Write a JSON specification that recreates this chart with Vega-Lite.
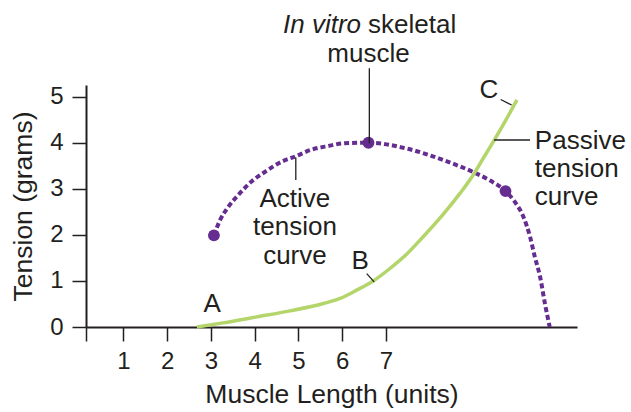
{
  "$schema": "https://vega.github.io/schema/vega-lite/v6.json",
  "width": 491,
  "height": 242,
  "autosize": {"type": "none"},
  "padding": {"left": 86, "top": 85, "right": 54, "bottom": 85},
  "background": "white",
  "config": {
    "view": {"stroke": null},
    "font": "Liberation Sans",
    "axis": {
      "domainColor": "#231f20",
      "domainWidth": 2,
      "tickColor": "#231f20",
      "tickWidth": 1.5,
      "tickSize": 14,
      "grid": false,
      "labelFont": "Liberation Sans",
      "labelFontSize": 24,
      "labelColor": "#231f20",
      "titleFont": "Liberation Sans",
      "titleFontSize": 26.5,
      "titleFontWeight": "normal",
      "titleColor": "#231f20"
    }
  },
  "datasets": {
    "active": [
      {"x": 3.07, "y": 1.99}, {"x": 3.21, "y": 2.32}, {"x": 3.4, "y": 2.61},
      {"x": 3.63, "y": 2.87}, {"x": 3.93, "y": 3.16}, {"x": 4.24, "y": 3.37},
      {"x": 4.62, "y": 3.59}, {"x": 4.92, "y": 3.7}, {"x": 5.3, "y": 3.85},
      {"x": 5.68, "y": 3.93}, {"x": 6.06, "y": 3.99}, {"x": 6.6, "y": 4.0},
      {"x": 7.49, "y": 3.87}, {"x": 8.32, "y": 3.62}, {"x": 9.07, "y": 3.33},
      {"x": 9.38, "y": 3.18}, {"x": 9.73, "y": 2.95}, {"x": 9.94, "y": 2.72},
      {"x": 10.14, "y": 2.39}, {"x": 10.29, "y": 1.96}, {"x": 10.4, "y": 1.52},
      {"x": 10.52, "y": 1.09}, {"x": 10.63, "y": 0.51}, {"x": 10.74, "y": 0.0}
    ],
    "passive": [
      {"x": 2.68, "y": 0}, {"x": 3.28, "y": 0.09}, {"x": 4.05, "y": 0.22},
      {"x": 4.81, "y": 0.35}, {"x": 5.57, "y": 0.51}, {"x": 5.95, "y": 0.62},
      {"x": 6.33, "y": 0.8}, {"x": 6.71, "y": 1.0}, {"x": 7.09, "y": 1.27},
      {"x": 7.47, "y": 1.58}, {"x": 7.85, "y": 1.96}, {"x": 8.31, "y": 2.45},
      {"x": 8.69, "y": 2.9}, {"x": 8.95, "y": 3.24}, {"x": 9.22, "y": 3.66},
      {"x": 9.5, "y": 4.1}, {"x": 9.76, "y": 4.53}, {"x": 9.99, "y": 4.93}
    ],
    "dots": [
      {"x": 3.07, "y": 1.99}, {"x": 6.6, "y": 4.0}, {"x": 9.73, "y": 2.95}
    ],
    "labelsCenter": [
      {"x": 6.6, "y": 5.76, "text": "muscle"},
      {"x": 4.92, "y": 2.61, "text": "Active"},
      {"x": 4.92, "y": 1.99, "text": "tension"},
      {"x": 4.92, "y": 1.37, "text": "curve"},
      {"x": 9.35, "y": 4.97, "text": "C"},
      {"x": 6.41, "y": 1.25, "text": "B"},
      {"x": 3.03, "y": 0.33, "text": "A"}
    ],
    "labelsLeft": [
      {"x": 6.59, "y": 6.38, "text": "skeletal"},
      {"x": 10.4, "y": 3.87, "text": "Passive"},
      {"x": 10.4, "y": 3.25, "text": "tension"},
      {"x": 10.4, "y": 2.64, "text": "curve"}
    ],
    "labelsItalic": [
      {"x": 6.43, "y": 6.38, "text": "In vitro"}
    ],
    "leaders": [
      {"x": 6.62, "y": 5.62, "x2": 6.62, "y2": 3.99},
      {"x": 4.94, "y": 3.68, "x2": 4.94, "y2": 3.19},
      {"x": 9.47, "y": 4.06, "x2": 10.29, "y2": 4.06},
      {"x": 9.62, "y": 4.94, "x2": 9.87, "y2": 4.82},
      {"x": 6.56, "y": 1.16, "x2": 6.73, "y2": 0.98}
    ]
  },
  "layer": [
    {
      "data": {"name": "active"},
      "mark": {"type": "line", "interpolate": "monotone", "color": "#662d91", "strokeWidth": 4, "strokeDash": [5, 3], "strokeCap": "butt"},
      "encoding": {
        "x": {"field": "x", "type": "quantitative", "title": "Muscle Length (units)", "scale": {"domain": [0.148, 11.363], "nice": false, "zero": false},
          "axis": {"values": [0.148, 1, 2, 3, 4, 5, 6, 7], "labelExpr": "datum.value < 0.5 ? '' : datum.label", "title": "Muscle Length (units)", "labelPadding": 8, "titlePadding": 8}},
        "y": {"field": "y", "type": "quantitative", "title": "Tension (grams)", "scale": {"domain": [0, 5.254], "nice": false, "zero": false},
          "axis": {"values": [0, 1, 2, 3, 4, 5], "title": "Tension (grams)", "labelPadding": 9, "titlePadding": 12}}
      }
    },
    {
      "data": {"name": "passive"},
      "mark": {"type": "line", "interpolate": "monotone", "color": "#b3d56a", "strokeWidth": 3.5},
      "encoding": {
        "x": {"field": "x", "type": "quantitative", "title": "Muscle Length (units)", "scale": {"domain": [0.148, 11.363], "nice": false, "zero": false}},
        "y": {"field": "y", "type": "quantitative", "title": "Tension (grams)", "scale": {"domain": [0, 5.254], "nice": false, "zero": false}}
      }
    },
    {
      "data": {"name": "dots"},
      "mark": {"type": "point", "filled": true, "opacity": 1, "color": "#662d91", "size": 140},
      "encoding": {
        "x": {"field": "x", "type": "quantitative", "title": "Muscle Length (units)", "scale": {"domain": [0.148, 11.363], "nice": false, "zero": false}},
        "y": {"field": "y", "type": "quantitative", "title": "Tension (grams)", "scale": {"domain": [0, 5.254], "nice": false, "zero": false}}
      }
    },
    {
      "data": {"name": "leaders"},
      "mark": {"type": "rule", "color": "#231f20", "strokeWidth": 1.3},
      "encoding": {
        "x": {"field": "x", "type": "quantitative", "title": "Muscle Length (units)", "scale": {"domain": [0.148, 11.363], "nice": false, "zero": false}},
        "y": {"field": "y", "type": "quantitative", "title": "Tension (grams)", "scale": {"domain": [0, 5.254], "nice": false, "zero": false}},
        "x2": {"field": "x2"},
        "y2": {"field": "y2"}
      }
    },
    {
      "data": {"name": "labelsCenter"},
      "mark": {"type": "text", "align": "center", "baseline": "alphabetic", "fontSize": 26, "color": "#231f20", "font": "Liberation Sans"},
      "encoding": {
        "x": {"field": "x", "type": "quantitative", "title": "Muscle Length (units)", "scale": {"domain": [0.148, 11.363], "nice": false, "zero": false}},
        "y": {"field": "y", "type": "quantitative", "title": "Tension (grams)", "scale": {"domain": [0, 5.254], "nice": false, "zero": false}},
        "text": {"field": "text"}
      }
    },
    {
      "data": {"name": "labelsLeft"},
      "mark": {"type": "text", "align": "left", "baseline": "alphabetic", "fontSize": 26, "color": "#231f20", "font": "Liberation Sans"},
      "encoding": {
        "x": {"field": "x", "type": "quantitative", "title": "Muscle Length (units)", "scale": {"domain": [0.148, 11.363], "nice": false, "zero": false}},
        "y": {"field": "y", "type": "quantitative", "title": "Tension (grams)", "scale": {"domain": [0, 5.254], "nice": false, "zero": false}},
        "text": {"field": "text"}
      }
    },
    {
      "data": {"name": "labelsItalic"},
      "mark": {"type": "text", "align": "right", "baseline": "alphabetic", "fontSize": 26, "fontStyle": "italic", "color": "#231f20", "font": "Liberation Sans"},
      "encoding": {
        "x": {"field": "x", "type": "quantitative", "title": "Muscle Length (units)", "scale": {"domain": [0.148, 11.363], "nice": false, "zero": false}},
        "y": {"field": "y", "type": "quantitative", "title": "Tension (grams)", "scale": {"domain": [0, 5.254], "nice": false, "zero": false}},
        "text": {"field": "text"}
      }
    }
  ]
}
